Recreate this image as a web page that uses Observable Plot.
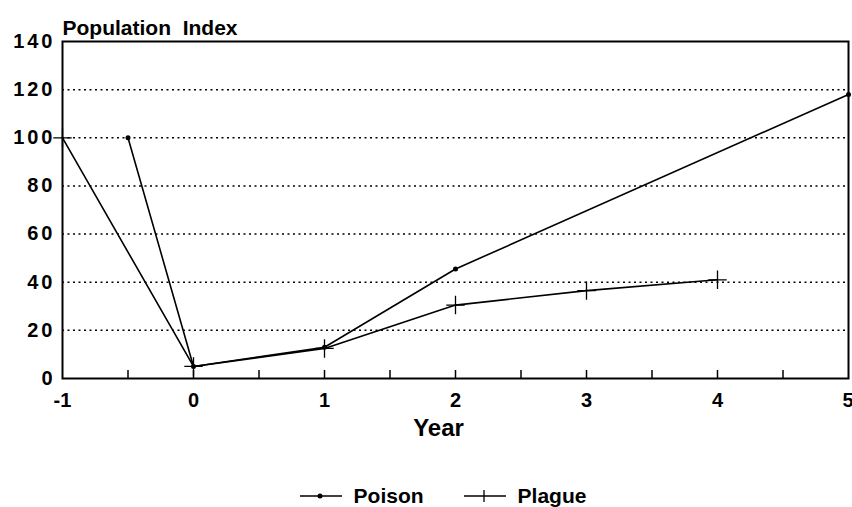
<!DOCTYPE html>
<html><head><meta charset="utf-8">
<script src="https://cdn.jsdelivr.net/npm/d3@7"></script>
<script src="https://cdn.jsdelivr.net/npm/@observablehq/plot@0.6"></script>
<style>
body{margin:0;background:#fff;font-family:"Liberation Sans",Arial,sans-serif;}
#chart{position:relative;width:852px;height:507px;overflow:hidden;}
#legend{position:absolute;left:0;top:484px;width:852px;display:flex;justify-content:center;align-items:center;font-weight:bold;font-size:21px;color:#000;padding-left:34px;box-sizing:border-box;}
#legend .item{display:flex;align-items:center;margin:0 20px;}
#legend svg{margin-right:12px;}
g[aria-label="y-axis tick label"] text{letter-spacing:3px;}
g[aria-label="title"] text{letter-spacing:1px;}
</style></head><body><div id="chart"><div id="legend"></div></div>
<script>
const poisonYears = [-0.5, 0, 1, 2, 5];
const poisonValues = [100, 5, 13, 45.5, 118];
const plagueYears = [-1, 0, 1, 2, 3, 4];
const plagueValues = [100, 5, 12.5, 30.5, 36.5, 41];
const yTicks = [0, 20, 40, 60, 80, 100, 120, 140];
const xMinorTicks = [-0.5, 0, 0.5, 1, 1.5, 2, 2.5, 3, 3.5, 4, 4.5];
const xLabels = [-1, 0, 1, 2, 3, 4];
const xLastLabel = [5];
const seriesNames = ["Poison", "Plague"];
const titleText = "Population\u00a0\u00a0Index";
const xTitle = "Year";

const poison = poisonYears.map((x, i) => ({x, y: poisonValues[i]}));
const plague = plagueYears.map((x, i) => ({x, y: plagueValues[i]}));

const chart = Plot.plot({
  width: 852, height: 475,
  marginTop: 41, marginLeft: 62, marginRight: 4, marginBottom: 97,
  x: {domain: [-1, 5]},
  y: {domain: [0, 140]},
  style: {fontFamily: "'Liberation Sans', Arial, sans-serif", background: "white", overflow: "visible", color: "black"},
  marks: [
    Plot.ruleY(yTicks.filter(d => d > 0 && d < 140), {stroke: "black", strokeWidth: 1.5, strokeDasharray: "2,3.5"}),
    Plot.axisY(yTicks, {tickSize: 0, tickPadding: 7, fontSize: 20, fontWeight: "bold", label: null, tickFormat: d => String(d)}),
    Plot.axisX(xLabels, {tickSize: 0, tickPadding: 14, fontSize: 20, fontWeight: "bold", label: null, tickFormat: d => String(d)}),
    Plot.axisX(xLastLabel, {tickSize: 0, tickPadding: 14, fontSize: 20, fontWeight: "bold", label: null, textAnchor: "end", dx: 5, tickFormat: d => String(d)}),
    Plot.ruleX(xMinorTicks, {y1: 0, y2: 0, insetTop: -8, stroke: "black", strokeWidth: 1.5}),
    Plot.frame({stroke: "black", strokeWidth: 2}),
    Plot.line(poison, {x: "x", y: "y", stroke: "black", strokeWidth: 1.6}),
    Plot.dot(poison, {x: "x", y: "y", r: 2.5, fill: "black"}),
    Plot.line(plague, {x: "x", y: "y", stroke: "black", strokeWidth: 1.6}),
    Plot.dot(plague, {x: "x", y: "y", symbol: "plus", r: 6, stroke: "black", strokeWidth: 1.3}),
    Plot.text([titleText], {frameAnchor: "top-left", textAnchor: "start", dy: -21, fontSize: 21, fontWeight: "bold", fill: "black", ariaLabel: "title"}),
    Plot.text([xTitle], {frameAnchor: "bottom", dy: 57, dx: -17, fontSize: 24, fontWeight: "bold", fill: "black"})
  ]
});
document.getElementById("chart").prepend(chart);

const legend = document.getElementById("legend");
seriesNames.forEach((name, i) => {
  const item = document.createElement("div");
  item.className = "item";
  const marker = i === 0
    ? '<circle cx="20" cy="10" r="2.5" fill="black"/>'
    : '<line x1="20" x2="20" y1="4" y2="16" stroke="black" stroke-width="1.3"/>';
  item.innerHTML = `<svg width="42" height="20"><line x1="0" x2="42" y1="10" y2="10" stroke="black" stroke-width="1.6"/>${marker}</svg><span>${name}</span>`;
  legend.appendChild(item);
});
</script>
</body></html>
